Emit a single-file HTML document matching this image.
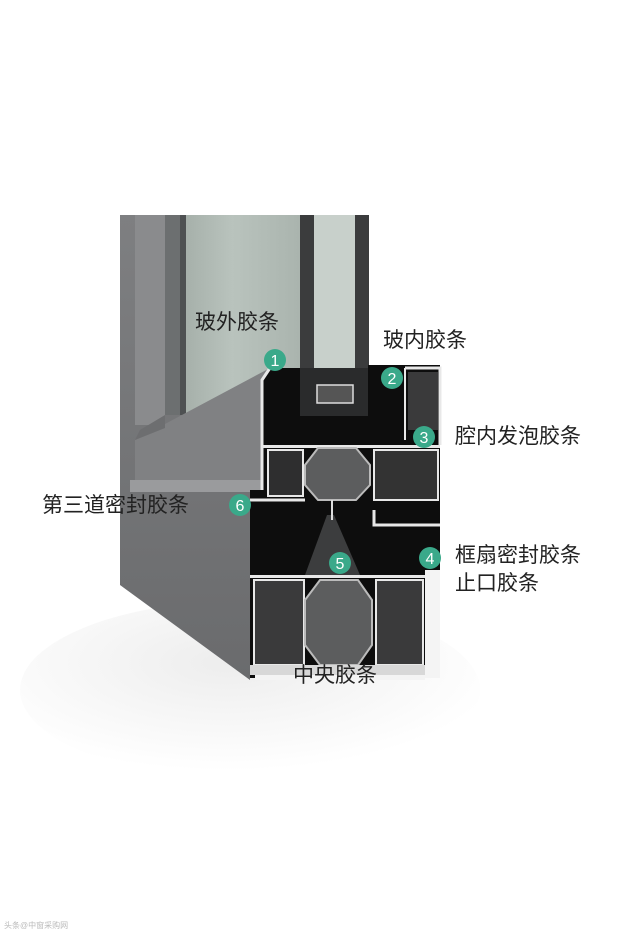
<!DOCTYPE html>
<html><head><meta charset="utf-8"><style>
html,body{margin:0;padding:0;background:#fff}
body{width:641px;height:949px;overflow:hidden;position:relative}
svg{position:absolute;left:0;top:0}
.t{font-family:"Liberation Sans","Noto Sans CJK SC",sans-serif;font-size:21px;fill:#222}
.n{font-family:"Liberation Sans",sans-serif;font-size:16px;fill:#fff;text-anchor:middle}
</style></head><body>
<svg width="641" height="949" viewBox="0 0 641 949">
<defs>
<radialGradient id="sh" cx="0.45" cy="0.35" r="0.6"><stop offset="0" stop-color="#ededed"/><stop offset="1" stop-color="#fff"/></radialGradient>
<linearGradient id="gl" x1="0" x2="1"><stop offset="0" stop-color="#9ea8a2"/><stop offset="0.5" stop-color="#b9c3bd"/><stop offset="1" stop-color="#aab4ae"/></linearGradient>
<linearGradient id="face" x1="0" x2="0" y1="0" y2="1"><stop offset="0" stop-color="#7e7f81"/><stop offset="1" stop-color="#6a6b6d"/></linearGradient>
</defs>
<ellipse cx="250" cy="690" rx="230" ry="90" fill="url(#sh)"/>
<polygon points="120,215 300,215 300,440 262,490 250,490 250,680 120,585" fill="url(#face)"/>
<rect x="165" y="215" width="135" height="200" fill="url(#gl)"/>
<rect x="180" y="215" width="6" height="200" fill="#4e5152"/>
<rect x="165" y="215" width="15" height="200" fill="#6c6f70"/>
<rect x="135" y="215" width="30" height="210" fill="#8a8b8d"/>
<polygon points="135,440 270,368 262,380 262,480 135,480" fill="#808183"/>
<polygon points="135,440 140,430 165,415 165,428" fill="#6d6e70"/>
<rect x="130" y="480" width="135" height="12" fill="#9a9b9d"/>
<rect x="300" y="215" width="68" height="200" fill="#c8d0cb"/>
<rect x="300" y="215" width="14" height="200" fill="#3b3c3d"/>
<rect x="355" y="215" width="14" height="200" fill="#3b3c3d"/>
<polygon points="262,380 270,368 300,368 300,415 368,415 368,365 440,365 440,678 250,678 250,490 262,490" fill="#0d0d0d"/>
<rect x="300" y="368" width="68" height="48" fill="#2a2b2c"/>
<rect x="317" y="385" width="36" height="18" fill="#555" stroke="#ddd" stroke-width="1.5"/>
<polyline points="262,490 262,380 270,368" fill="none" stroke="#e8e8e8" stroke-width="3"/>
<polyline points="405,368 440,368 440,445" fill="none" stroke="#e8e8e8" stroke-width="3"/>
<line x1="405" y1="368" x2="405" y2="440" stroke="#e8e8e8" stroke-width="2"/>
<rect x="408" y="372" width="30" height="58" fill="#3a3a3b"/>
<rect x="262" y="445" width="178" height="3" fill="#e8e8e8"/>
<rect x="268" y="450" width="35" height="46" fill="#2e2e2f" stroke="#e8e8e8" stroke-width="2"/>
<rect x="374" y="450" width="64" height="50" fill="#333" stroke="#e8e8e8" stroke-width="2"/>
<polygon points="318,448 356,448 370,465 370,485 356,500 318,500 305,485 305,465" fill="#5c5d5e" stroke="#bbb" stroke-width="2"/>
<line x1="250" y1="500" x2="305" y2="500" stroke="#e8e8e8" stroke-width="3"/>
<polyline points="374,510 374,525 440,525" fill="none" stroke="#e8e8e8" stroke-width="3"/>
<polygon points="327,515 334,515 360,575 305,575" fill="#3c3d3e"/>
<line x1="332" y1="500" x2="332" y2="520" stroke="#ddd" stroke-width="2"/>
<rect x="250" y="575" width="175" height="3" fill="#e8e8e8"/>
<rect x="254" y="580" width="50" height="85" fill="#3a3a3b" stroke="#e8e8e8" stroke-width="2"/>
<rect x="376" y="580" width="47" height="85" fill="#3a3a3b" stroke="#e8e8e8" stroke-width="2"/>
<polygon points="320,580 358,580 372,600 372,645 358,665 320,665 305,645 305,600" fill="#5c5d5e" stroke="#bbb" stroke-width="2"/>
<rect x="250" y="665" width="175" height="10" fill="#d8d8d8"/>
<rect x="425" y="570" width="15" height="108" fill="#f4f4f4"/>
<rect x="255" y="675" width="170" height="5" fill="#f4f4f4"/>
<g fill="#3aa98a">
<circle cx="275" cy="360" r="11"/><circle cx="392" cy="378" r="11"/><circle cx="424" cy="437" r="11"/>
<circle cx="430" cy="558" r="11"/><circle cx="340" cy="563" r="11"/><circle cx="240" cy="505" r="11"/>
</g>
<text class="n" x="275" y="366">1</text><text class="n" x="392" y="384">2</text><text class="n" x="424" y="443">3</text>
<text class="n" x="430" y="564">4</text><text class="n" x="340" y="569">5</text><text class="n" x="240" y="511">6</text>
<text class="t" x="195" y="329">玻外胶条</text>
<text class="t" x="383" y="347">玻内胶条</text>
<text class="t" x="455" y="443">腔内发泡胶条</text>
<text class="t" x="42" y="512">第三道密封胶条</text>
<text class="t" x="455" y="562">框扇密封胶条</text>
<text class="t" x="455" y="590">止口胶条</text>
<text class="t" x="293" y="682">中央胶条</text>
<text x="4" y="928" font-family="Liberation Sans,Noto Sans CJK SC,sans-serif" font-size="8" fill="#bbb">头条@中窗采购网</text>
</svg>
</body></html>
